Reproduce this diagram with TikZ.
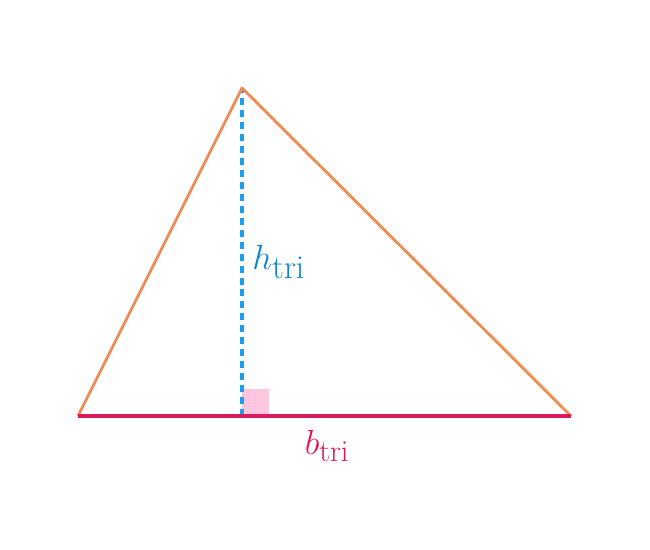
\documentclass[tikz,border=0pt]{standalone}
\usepackage{amsmath}
\usepackage{tikz}
\definecolor{triorange}{HTML}{F28A52}
\definecolor{tricrimson}{HTML}{DB1A5E}
\definecolor{triblue}{HTML}{1A9EF0}
\definecolor{trilabel}{HTML}{0F85D6}
\definecolor{tripink}{HTML}{FFC6DF}

\begin{document}
\begin{tikzpicture}
            \useasboundingbox(0, 0)rectangle(16.25, 13.75);
            \coordinate(A)at(1.95, 3.35);
            \coordinate(B)at(14.275, 3.35);
            \coordinate(C)at(6.05, 11.55);
            \coordinate(H)at(6.05, 3.35);
            \fill[tripink](H)rectangle(6.725, 4.025);
            \draw[triblue, line width=2.2pt, dash pattern=on 5pt off 3.5pt](H)--(C)node[pos=.47, right, xshift=3pt, text=trilabel, font=\fontsize{34}{38}\selectfont]{$h_{\text{tri}}$};
            \draw[triorange, line width=2pt, line join=round](A)--(C)--(B);
            \draw[tricrimson, line width=2.2pt](A)--(B);
            \node[text=tricrimson, font=\fontsize{31}{34}\selectfont]at(8.175, 2.6){$b_{\text{tri}}$};
        \end{tikzpicture}
\end{document}
